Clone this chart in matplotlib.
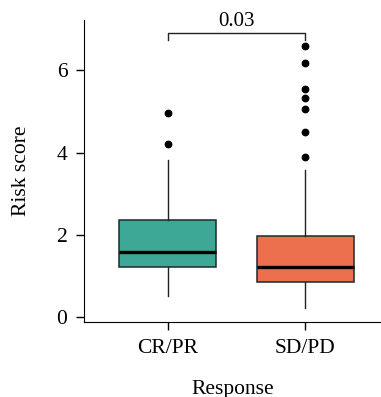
import matplotlib
matplotlib.use("Agg")
import matplotlib.pyplot as plt

# values
groups = ["CR/PR", "SD/PD"]
colors = ["#3ea897", "#ec6f4e"]
q1 = [1.23, 0.87]
med = [1.58, 1.23]
q3 = [2.37, 1.99]
whislo = [0.53, 0.24]
whishi = [3.83, 3.58]
fliers = [[4.97, 4.21],
          [6.59, 6.18, 5.54, 5.34, 5.06, 4.50, 3.91]]
p_label = "0.03"

plt.rcParams['font.family'] = ['Liberation Serif', 'DejaVu Serif']

fig = plt.figure(figsize=(3.81, 3.97), dpi=100)
ax = fig.add_axes([0.2205, 0.189, 0.7795, 0.761])

stats = []
for i in range(len(groups)):
    stats.append(dict(label=groups[i], q1=q1[i], med=med[i], q3=q3[i],
                      whislo=whislo[i], whishi=whishi[i], fliers=fliers[i]))

bp = ax.bxp(stats, positions=[0, 1], widths=0.705, patch_artist=True,
            showcaps=False,
            boxprops=dict(edgecolor="#1f2a28", linewidth=1.1),
            medianprops=dict(color="black", linewidth=2.4),
            whiskerprops=dict(color="#222222", linewidth=1.0),
            flierprops=dict(marker="o", markerfacecolor="black",
                            markeredgecolor="black", markersize=4.6))
for patch, c in zip(bp["boxes"], colors):
    patch.set_facecolor(c)

# significance bracket
yb = 6.9
ax.plot([0, 0, 1, 1], [6.74, yb, yb, 6.74], color="#222222", lw=1.0,
        clip_on=False)
ax.text(0.5, yb + 0.06, p_label, ha="center", va="bottom", fontsize=15)

ax.set_xlim(-0.607, 1.55)
ax.set_ylim(-0.11, 7.23)
ax.set_yticks([0, 2, 4, 6])
ax.set_xticks([0, 1])
ax.set_xticklabels(groups)
ax.spines["top"].set_visible(False)
ax.spines["right"].set_visible(False)
ax.tick_params(labelsize=15.5, length=6, width=1, direction="out", pad=6)
ax.set_ylabel("Risk score", fontsize=15.5, labelpad=18)
ax.set_xlabel("Response", fontsize=15.5, labelpad=16)

fig.savefig("out.png", dpi=100)
